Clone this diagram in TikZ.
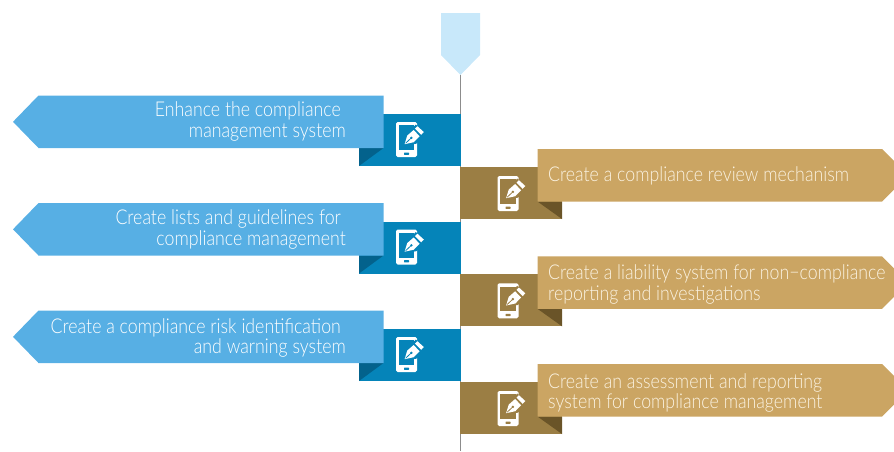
\documentclass[tikz,border=0pt]{standalone}
\usepackage{fontspec}
\setmainfont{Lato Light}[FakeStretch=0.87]
\definecolor{blueArrow}{HTML}{57AFE4}
\definecolor{blueBox}{HTML}{0584B9}
\definecolor{blueFold}{HTML}{03628C}
\definecolor{goldArrow}{HTML}{CBA563}
\definecolor{goldBox}{HTML}{9B7E44}
\definecolor{goldFold}{HTML}{6A5428}
\definecolor{topTag}{HTML}{C8E8FA}
\definecolor{spine}{HTML}{8C8C8C}
\definecolor{goldText}{HTML}{FBF3E2}
\tikzset{
  every picture/.style={x=1pt,y=-1pt},
  label/.style={font=\fontsize{20.4}{20.6}\selectfont,inner sep=0pt},
  bluelabel/.style={label,text=white,anchor=east,align=right},
  goldlabel/.style={label,text=goldText,anchor=west,align=left},
  pics/phone/.style={code={
    \fill[white,rounded corners=1.6pt] (0,0) rectangle (21,35);
    \fill[#1] (2.8,3.2) rectangle (18.2,28);
    \fill[#1,rounded corners=.4pt] (8,30.6) rectangle (13,32.8);
    \fill[#1] (6.2,24.2) -- (9,12.4) -- (19.8,2.6) -- (30,10.6) -- (20.6,21.6) -- cycle;
    \fill[white] (8.6,22.2) -- (11.2,13.6) -- (17.6,8) -- (23.6,14.2) -- (17.8,20.2) -- cycle;
    \fill[white] (19,6.6) -- (21.4,4.2) -- (27.8,10) -- (25.2,12.8) -- cycle;
    \fill[#1] (15.4,15.8) circle (1.3);
    \draw[#1,line width=.8pt] (15.4,15.8) -- (9.6,21.2);
  }}
}
\newcommand{\backfive}{\hspace*{5pt}}
\begin{document}
\begin{tikzpicture}
\useasboundingbox (0,0) rectangle (894,451);
\fill[topTag] (441,13) -- (480,13) -- (480,55) -- (460.5,75) -- (441,55) -- cycle;
\coordinate (spinetop) at (460.5,75);
\coordinate (spineend) at (460.5,451);
\draw[spine,line width=1pt] (spinetop) -- (spineend);
\foreach \y/\n in {95.5/a,203/b,310.5/c}{
  \fill[blueBox] (359,\y+18.5) rectangle (461,\y+70.5);
  \fill[blueFold] (359,\y+70.5) -- (359,\y+52.5) -- (383.5,\y+52.5) -- cycle;
  \fill[blueArrow] (383.5,\y) -- (38.5,\y) -- (13,\y+26.3) -- (38.5,\y+52.5) -- (383.5,\y+52.5) -- cycle;
  \pic at (396,\y+26.5) {phone=blueBox};
}
\foreach \y/\n in {149/d,256.3/e,364/f}{
  \fill[goldBox] (460,\y+18) rectangle (562,\y+70);
  \fill[goldFold] (537.5,\y+52.5) -- (562,\y+52.5) -- (562,\y+70) -- cycle;
  \fill[goldArrow] (537.5,\y) -- (882,\y) -- (894,\y+12) -- (894,\y+40.5) -- (882,\y+52.5) -- (537.5,\y+52.5) -- cycle;
  \pic at (497.5,\y+27) {phone=goldBox};
}
\node[bluelabel] (t1) at (346,121.3) {Enhance the compliance\backfive\\management system};
\node[bluelabel] (t2) at (346,229.3) {Create lists and guidelines for\backfive\\compliance management};
\node[bluelabel] (t3) at (346,337.8) {Create a compliance risk identification\backfive\\and warning system};
\node[goldlabel] (t4) at (548,176) {Create a compliance review mechanism};
\node[goldlabel] (t5) at (548,284.3) {Create a liability system for non−compliance\\reporting and investigations};
\node[goldlabel] (t6) at (548,392.8) {Create an assessment and reporting\\system for compliance management};
\end{tikzpicture}
\end{document}
